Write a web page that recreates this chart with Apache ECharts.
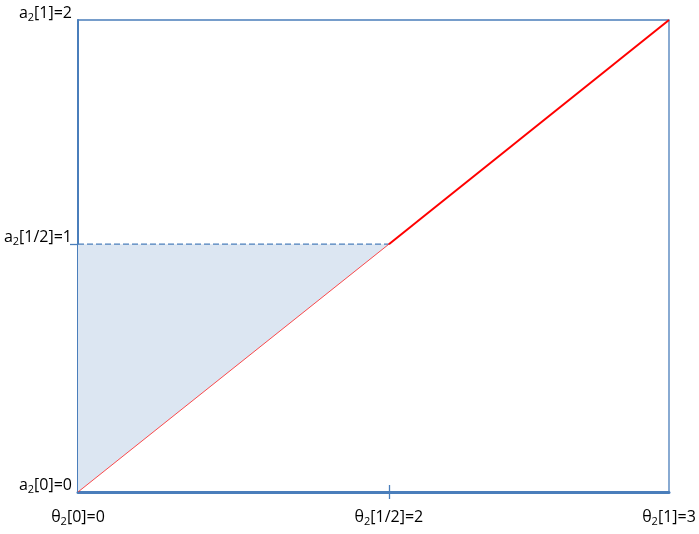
<!DOCTYPE html>
<html><head><meta charset="utf-8">
<script src="https://cdn.jsdelivr.net/npm/echarts@6/dist/echarts.min.js"></script>
<style>html,body{margin:0;padding:0;background:#fff}#c{width:699px;height:534px}</style>
</head><body><div id="c"></div>
<script>
// Tick positions (fraction of axis) and labels
const xTickValues = [0, 0.526, 1];
const xTickLabels = ['{t|θ}{s|2}{t|[0]=0}', '{t|θ}{s|2}{t|[1/2]=2}', '{t|θ}{s|2}{t|[1]=3}'];
const yTickValues = [0, 0.525, 1];
const yTickLabels = ['{t|a}{s|2}{t|[0]=0}', '{t|a}{s|2}{t|[1/2]=1}', '{t|a}{s|2}{t|[1]=2}'];
// Series
const lowerLine = [[0, 0], [0.526, 0.525]];
const upperLine = [[0.526, 0.525], [1, 1]];
const dashedGuide = [[0, 0.525], [0.526, 0.525]];
const shadedTriangle = [[0, 0.525], [0.526, 0.525], [0, 0]];

const FONT = 'Open Sans';
const rich = {
  t: {fontSize: 16, fontFamily: FONT, color: '#000'},
  s: {fontSize: 11, fontFamily: FONT, color: '#000', padding: [9, 0, 0, 0]}
};
const blue = '#4a7ebb';
function lab(vals, labels) { return v => { const i = vals.findIndex(x => Math.abs(x - v) < 1e-6); return i >= 0 ? labels[i] : ''; }; }

const chart = echarts.init(document.getElementById('c'), null, {renderer: 'canvas'});
chart.setOption({
  animation: false,
  backgroundColor: '#fff',
  grid: {left: 78, right: 30, top: 20, bottom: 42, show: true, borderColor: blue, borderWidth: 1.3, backgroundColor: 'transparent'},
  xAxis: [{
    type: 'value', min: 0, max: 1,
    splitLine: {show: false},
    axisLine: {show: true, onZero: false, lineStyle: {color: blue, width: 3}},
    axisTick: {show: true, customValues: [0.526], length: 7, inside: false, lineStyle: {color: blue, width: 1.3}},
    axisLabel: {show: true, customValues: xTickValues, margin: 15, formatter: lab(xTickValues, xTickLabels), rich: rich}
  }, {
    type: 'value', min: 0, max: 1, position: 'bottom', gridIndex: 0,
    splitLine: {show: false},
    axisLine: {show: false},
    axisTick: {show: true, customValues: [0.526], length: 7, inside: true, lineStyle: {color: blue, width: 1.3}},
    axisLabel: {show: false}
  }],
  yAxis: {
    type: 'value', min: 0, max: 1,
    splitLine: {show: false},
    axisLine: {show: true, onZero: false, lineStyle: {color: blue, width: 2}},
    axisTick: {show: true, customValues: [0.525], length: 8, lineStyle: {color: blue, width: 1.3}},
    axisLabel: {show: true, customValues: yTickValues, margin: 6, formatter: lab(yTickValues, yTickLabels), rich: rich, padding: [0, 0, 14, 0]}
  },
  series: [
    {
      type: 'custom', z: 1,
      renderItem: function (params, api) {
        const pts = shadedTriangle.map(p => api.coord(p));
        return {type: 'polygon', shape: {points: pts}, style: {fill: '#dce6f2'}};
      },
      data: [0]
    },
    {type: 'line', data: dashedGuide, symbol: 'none', z: 3, lineStyle: {color: blue, width: 1.2, type: [6, 3]}},
    {type: 'line', data: lowerLine, symbol: 'none', z: 4, lineStyle: {color: '#ff0000', width: 0.7}},
    {type: 'line', data: upperLine, symbol: 'none', z: 4, lineStyle: {color: '#ff0000', width: 2}}
  ]
});
</script></body></html>
